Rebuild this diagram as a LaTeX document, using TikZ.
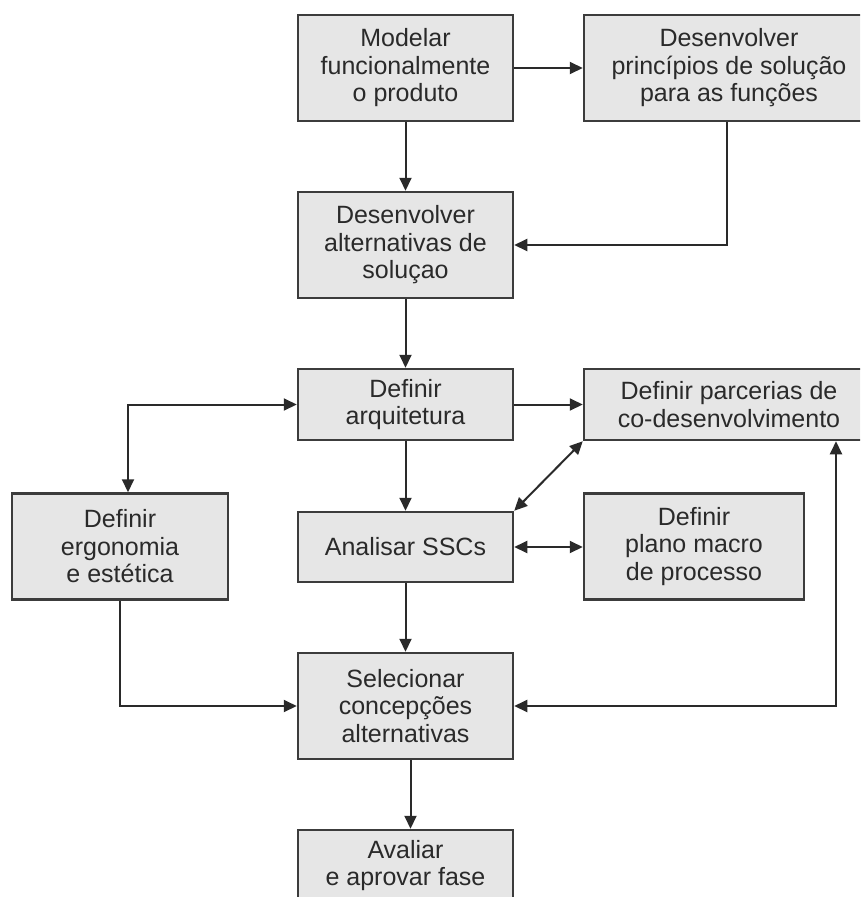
\documentclass[tikz,border=0pt]{standalone}
\usepackage{fontspec}
\setmainfont{Liberation Sans}
\usetikzlibrary{arrows.meta}
\definecolor{boxfill}{HTML}{E6E6E6}
\definecolor{boxline}{HTML}{3C3C3C}
\definecolor{ink}{HTML}{2A2A2A}
\tikzset{
  proc/.style={draw=boxline, line width=2.5pt, fill=boxfill, text=ink,
    align=center, inner sep=0pt, minimum width=215pt,
    font=\fontsize{25}{27.5}\selectfont},
  tall/.style={minimum height=106pt},
  short/.style={minimum height=71pt},
  link/.style={draw=ink, line width=2pt,
    arrows={-Triangle[length=13pt,width=12pt]}},
  both/.style={draw=ink, line width=2pt,
    arrows={Triangle[length=13pt,width=12pt]-Triangle[length=13pt,width=12pt]}}
}
\begin{document}
\begin{tikzpicture}[x=1pt,y=-1pt]
\useasboundingbox (0,0) rectangle (860,897);
\clip (0,0) rectangle (860,897);
\fill[white] (0,0) rectangle (860,897);

% process boxes
\node[proc,tall]  (mod) at (405.5,68)  {Modelar\\funcionalmente\\o produto};
\node[proc,tall,minimum width=290pt] (pri) at (729,68) {Desenvolver\\princípios de solução\\para as funções};
\node[proc,tall]  (alt) at (405.5,245) {Desenvolver\\alternativas de\\soluçao};
\node[proc,short] (arq) at (405.5,404.5) {Definir\\arquitetura};
\node[proc,short,minimum width=290pt] (par) at (729,404.5) {Definir parcerias de\\co-desenvolvimento};
\node[proc,tall,minimum width=216pt] (erg) at (120,546.5) {Definir\\ergonomia\\e estética};
\node[proc,short,minimum height=70pt] (ssc) at (405.5,547) {Analisar SSCs};
\node[proc,tall,minimum width=220pt] (pla) at (694,546.5) {Definir\\plano macro\\de processo};
\node[proc,tall]  (sel) at (405.5,706) {Selecionar\\concepções\\alternativas};
\node[proc,short] (ava) at (405.5,865.5) {Avaliar\\e aprovar fase};

% connectors
\draw[link] (mod.east) -- (pri.west);
\draw[link] (mod.south) -- (alt.north);
\draw[link] ([xshift=-2pt]pri.south) |- (alt.east);
\draw[link] (alt.south) -- (arq.north);
\draw[link] (arq.east) -- (par.west);
\draw[both] (arq.west) -| ([xshift=8pt]erg.north);
\draw[link] (arq.south) -- (ssc.north);
\draw[both] (ssc.north east) -- (par.south west);
\draw[both] (ssc.east) -- (ssc.east -| pla.west);
\draw[link] (ssc.south) -- (sel.north);
\draw[link] (erg.south) |- (sel.west);
\draw[both] (sel.east) -| ([xshift=107pt]par.south);
\draw[link] ([xshift=5pt]sel.south) -- ([xshift=5pt]ava.north);
\end{tikzpicture}
\end{document}
